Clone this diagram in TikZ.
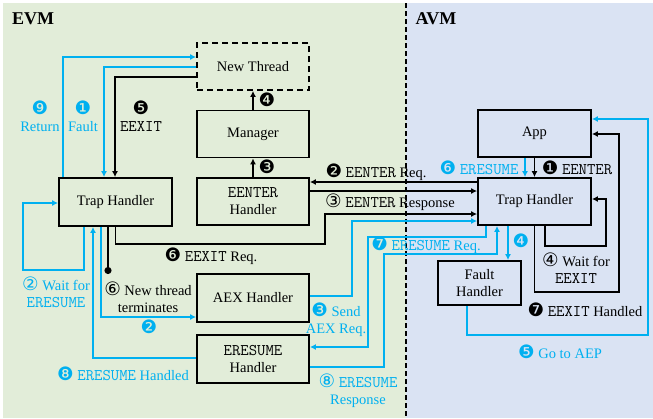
\documentclass[tikz,border=0pt]{standalone}
\usepackage{fontspec}
\setmainfont{Liberation Serif}
\setmonofont[Scale=1.12]{Latin Modern Mono}
\newfontfamily\dejavu{DejaVu Sans}
\usetikzlibrary{arrows.meta}

\definecolor{evmbg}{HTML}{E2EDD9}
\definecolor{avmbg}{HTML}{DAE3F3}
\definecolor{cyanln}{HTML}{00B0F0}

% numbers in circles
\newcommand{\dnum}[1]{{\dejavu\fontsize{18.5}{17}\selectfont #1}}

\begin{document}
\begin{tikzpicture}[x=1pt,y=-1pt,
	font=\fontsize{14.5}{17}\selectfont,
	box/.style={draw,line width=1.8pt,minimum width=112pt,minimum height=47pt,align=center,inner sep=2pt},
	fhbox/.style={box,minimum width=83pt,minimum height=44pt},
	ln/.style={line width=1.6pt,-{Latex[length=6pt,width=6pt]}},
	bl/.style={ln,cyanln},
	lab/.style={align=center,inner sep=1pt},
	blab/.style={lab,text=cyanln}]
	\useasboundingbox (0,0) rectangle (653,418);
	\fill [evmbg] (3,3) rectangle (406,418);
	\fill [avmbg] (406,3) rectangle (653,418);
	\draw [line width=1.3pt,dash pattern=on 5pt off 3pt] (406,3) -- (406,418);
	\node [font=\fontsize{18}{18}\selectfont\bfseries] (evm) at (33,19) {EVM};
	\node [font=\fontsize{18}{18}\selectfont\bfseries] (avm) at (436,19) {AVM};

	%EVM
	\node [box,dash pattern=on 6pt off 4pt] (newT) at (253,66.5) {New Thread};
	\node [box] (mgr) at (253,134) {Manager};
	\node [box] (eenH) at (253,201.5) {\texttt{EENTER}\\Handler};
	\node [box,minimum width=113pt,minimum height=48pt] (trapL) at (115.5,202) {Trap Handler};
	\node [box,minimum height=48pt] (aexH) at (253,298) {AEX Handler};
	\node [box,minimum height=48pt] (eresH) at (253,359) {\texttt{ERESUME}\\Handler};

	%AVM
	\node [box,minimum width=113pt] (app) at (534.5,133.5) {App};
	\node [box,minimum width=113pt] (trapR) at (534.5,201.5) {Trap Handler};
	\node [fhbox] (faultH) at (479.5,283) {Fault\\Handler};

	%fleches EVM
	\draw [bl] (trapL.north -| 63,0) |- (newT.west |- 0,57);
	\draw [bl] (newT.west |- 0,67) -| (trapL.north -| 104,0);
	\draw [ln] (newT.west |- 0,77) -| (trapL.north -| 115,0);
	\draw [ln] (mgr.north) -- (newT.south);
	\draw [ln] (eenH.north) -- (mgr.south);
	\draw [bl] (trapL.south -| 84,0) |- (23,270) |- (trapL.west |- 0,203);
	\draw [bl] (trapL.south -| 101,0) |- (aexH.west |- 0,317);
	\draw [bl] (eresH.west |- 0,358) -| (trapL.south -| 93,0);
	\coordinate (term) at (108,274);
	\draw [ln,-{Circle[length=7pt]}] (trapL.south -| 108,0) -- (term);

	%entre EVM et AVM
	\draw [ln] (trapR.west |- 0,182) -- (eenH.east |- 0,182);
	\draw [ln] (eenH.east |- 0,191) -- (trapR.west |- 0,191);
	\draw [ln] (trapL.south) |- (325,244) |- (trapR.west |- 0,214);
	\draw [bl] (aexH.east |- 0,296) -| (352,221) -- (trapR.west |- 0,221);
	\draw [bl] (trapR.south -| 486,0) |- (368,237) |- (eresH.east |- 0,347);
	\draw [bl] (eresH.east |- 0,367) -| (384,254) -| (trapR.south -| 497,0);

	%fleches AVM
	\draw [bl] (app.south -| 525,0) -- (trapR.north -| 525,0);
	\draw [ln] (app.south) -- (trapR.north);
	\draw [ln] (trapR.south -| 545,0) |- (606,246) |- (trapR.east |- 0,199);
	\draw [ln] (trapR.south) |- (619,292) |- (app.east |- 0,134);
	\draw [bl] (trapR.south -| 508,0) -- (faultH.north -| 508,0);
	\draw [bl] (faultH.south -| 467,0) |- (648,335) |- (app.east |- 0,119);

	%labels
	\node [blab] (lret) at (40,116) {\dnum{❾}\\Return};
	\node [blab] (lfault) at (83,116) {\dnum{❶}\\Fault};
	\node [lab] (lexit) at (141,116) {\dnum{❺}\\\texttt{EEXIT}};
	\node [lab] (l4) at (267,100) {\dnum{❹}};
	\node [lab] (l3) at (267,167) {\dnum{❸}};
	\node [lab] (lreq) at (376,172) {\dnum{❷} \texttt{EENTER} Req.};
	\node [lab] (lresp) at (390,202) {\dnum{③} \texttt{EENTER} Response};
	\node [lab] (lexreq) at (211,256) {\dnum{❻} \texttt{EEXIT} Req.};
	\node [blab] (lwait) at (56,292) {\dnum{②} Wait for\\\texttt{ERESUME}};
	\node [lab] (lterm) at (148,297) {\dnum{⑥} New thread\\terminates};
	\node [blab] (l2) at (149,327) {\dnum{❷}};
	\node [blab] (lhand) at (123,374) {\dnum{❽} \texttt{ERESUME} Handled};
	\node [blab] (lsend) at (336,320) {\dnum{❸} Send\\AEX Req.};
	\node [blab] (lrresp) at (358,391) {\dnum{⑧} \texttt{ERESUME}\\Response};
	\node [blab] (lrreq) at (426,245) {\dnum{❼} \texttt{ERESUME} Req.};
	\node [blab] (lres) at (479,168) {\dnum{❻} \texttt{ERESUME}};
	\node [lab] (lenter) at (577,168) {\dnum{❶} \texttt{EENTER}};
	\node [blab] (l4b) at (521,241) {\dnum{❹}};
	\node [lab] (lwaitx) at (576,268) {\dnum{④} Wait for\\\texttt{EEXIT}};
	\node [lab] (lhandx) at (585,310) {\dnum{❼} \texttt{EEXIT} Handled};
	\node [blab] (laep) at (560,352) {\dnum{❺} Go to AEP};
\end{tikzpicture}
\end{document}
